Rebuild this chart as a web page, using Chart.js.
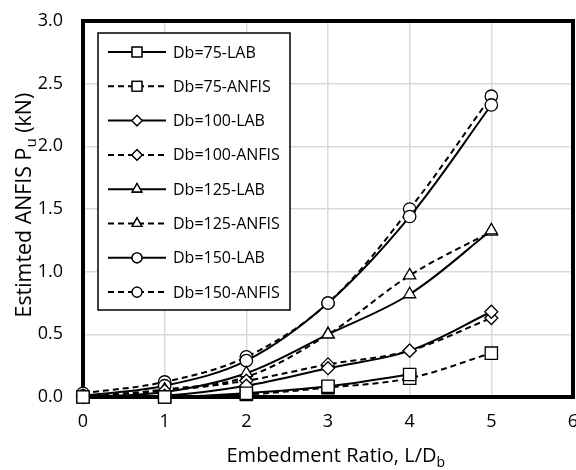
<!DOCTYPE html>
<html lang="en">
<head>
<meta charset="UTF-8">
<title>Estimated ANFIS Pu</title>
<script src="https://cdn.jsdelivr.net/npm/chart.js"></script>
<style>
  body { margin: 0; background: #fff; }
  canvas { display: block; }
</style>
</head>
<body>
<canvas id="chart" width="576" height="470"></canvas>
<script>
  // --- data ---
  const ratios = [0, 1, 2, 3, 4, 5];
  const db75Lab    = [0.00, 0.00, 0.03, 0.085, 0.18, null];
  const db75Anfis  = [0.00, 0.00, 0.02, 0.075, 0.15, 0.35];
  const db100Lab   = [0.00, 0.01, 0.09, 0.23, 0.37, 0.68];
  const db100Anfis = [0.01, 0.05, 0.13, 0.26, 0.37, 0.63];
  const db125Lab   = [0.00, 0.04, 0.19, 0.50, 0.82, 1.33];
  const db125Anfis = [0.00, 0.06, 0.16, 0.50, 0.97, 1.32];
  const db150Lab   = [0.01, 0.09, 0.29, 0.75, 1.44, 2.33];
  const db150Anfis = [0.03, 0.12, 0.32, 0.75, 1.50, 2.40];
  const xTicks = [0, 1, 2, 3, 4, 5, 6];
  const yTicks = [0, 0.5, 1.0, 1.5, 2.0, 2.5, 3.0];

  const FONT = "'Open Sans', 'DejaVu Sans', sans-serif";

  const toPoints = vals => ratios.map((x, i) => ({ x: x, y: vals[i] }));

  function series(label, vals, style, radius, dashed) {
    return {
      label: label,
      data: toPoints(vals),
      showLine: true,
      tension: 0.35,
      spanGaps: false,
      borderColor: "#000",
      borderWidth: 2,
      borderDash: dashed ? [6, 4] : [],
      pointStyle: style,
      pointRadius: radius,
      pointBorderWidth: 1.3,
      pointBorderColor: "#000",
      pointBackgroundColor: "#fff",
      clip: false
    };
  }

  const datasets = [
    series("Db=75-LAB", db75Lab, "rect", 8.7, false),
    series("Db=75-ANFIS", db75Anfis, "rect", 8.7, true),
    series("Db=100-LAB", db100Lab, "rectRot", 6.5, false),
    series("Db=100-ANFIS", db100Anfis, "rectRot", 6.5, true),
    series("Db=125-LAB", db125Lab, "triangle", 7, false),
    series("Db=125-ANFIS", db125Anfis, "triangle", 7, true),
    series("Db=150-LAB", db150Lab, "circle", 6.2, false),
    series("Db=150-ANFIS", db150Anfis, "circle", 6.2, true)
  ];

  // plot frame (thick black border), under the markers
  const frame = {
    id: "frame",
    beforeDatasetsDraw(chart) {
      const { ctx, chartArea: a } = chart;
      ctx.save();
      ctx.strokeStyle = "#000";
      ctx.lineWidth = 4;
      ctx.strokeRect(a.left, a.top, a.right - a.left, a.bottom - a.top);
      ctx.restore();
    }
  };

  // title with a subscript, sized to span `span` px, centred on x
  function subTitle(ctx, parts, x, y, span) {
    const measure = k => parts.reduce((w, p) => {
      ctx.font = Math.round(p.size * k * 10) / 10 + "px " + FONT;
      return w + ctx.measureText(p.t).width;
    }, 0);
    const k = span / measure(1);
    let cx = x - span / 2;
    parts.forEach(p => {
      ctx.font = Math.round(p.size * k * 10) / 10 + "px " + FONT;
      ctx.fillText(p.t, cx, y + (p.dy || 0));
      cx += ctx.measureText(p.t).width;
    });
  }

  const titles = {
    id: "titles",
    afterDraw(chart) {
      const ctx = chart.ctx;
      ctx.save();
      ctx.fillStyle = "#000";
      ctx.textBaseline = "alphabetic";
      ctx.textAlign = "left";
      subTitle(ctx, [
        { t: "Embedment Ratio, L/D", size: 20 },
        { t: "b", size: 14, dy: 5 }
      ], 336, 462, 219);

      ctx.translate(31, 205);
      ctx.rotate(-Math.PI / 2);
      subTitle(ctx, [
        { t: "Estimted ANFIS P", size: 20 },
        { t: "u", size: 14, dy: 5 },
        { t: " (kN)", size: 20 }
      ], 0, 0, 225);
      ctx.restore();
    }
  };

  // legend box drawn inside the plot
  const boxLegend = {
    id: "boxLegend",
    afterDraw(chart) {
      const ctx = chart.ctx;
      const left = 98, top = 33, right = 290, bottom = 310;
      ctx.save();
      ctx.fillStyle = "#fff";
      ctx.fillRect(left, top, right - left, bottom - top);
      ctx.strokeStyle = "#000";
      ctx.lineWidth = 1.5;
      ctx.strokeRect(left, top, right - left, bottom - top);
      chart.data.datasets.forEach((ds, i) => {
        const y = 52 + i * 34.3;
        ctx.strokeStyle = "#000";
        ctx.lineWidth = 2;
        ctx.setLineDash(ds.borderDash);
        ctx.beginPath();
        ctx.moveTo(108, y);
        ctx.lineTo(166, y);
        ctx.stroke();
        ctx.setLineDash([]);
        ctx.fillStyle = "#fff";
        ctx.lineWidth = 1.3;
        Chart.helpers.drawPoint(ctx, {
          pointStyle: ds.pointStyle, radius: ds.pointRadius * 0.8,
          rotation: 0, borderWidth: 1.3
        }, 137, y);
        ctx.fill();
        ctx.stroke();
        ctx.fillStyle = "#000";
        ctx.font = "16px " + FONT;
        ctx.textBaseline = "middle";
        ctx.fillText(ds.label, 173, y + 1);
      });
      ctx.restore();
    }
  };

  new Chart(document.getElementById("chart"), {
    type: "scatter",
    data: { datasets: datasets },
    plugins: [frame, titles, boxLegend],
    options: {
      responsive: false,
      animation: false,
      layout: { autoPadding: false, padding: { left: 0, right: 3, top: 21, bottom: 0 } },
      plugins: { legend: { display: false }, tooltip: { enabled: false } },
      scales: {
        x: {
          type: "linear",
          min: 0, max: 6,
          afterBuildTicks: s => { s.ticks = xTicks.map(v => ({ value: v })); },
          afterFit: s => { s.height = 73; s.paddingLeft = 0; s.paddingRight = 0; },
          grid: { color: "#d9d9d9", lineWidth: 1.5, drawTicks: false },
          border: { display: false },
          ticks: { color: "#000", padding: 14, font: { family: FONT, size: 18 } }
        },
        y: {
          min: 0, max: 3,
          afterBuildTicks: s => { s.ticks = yTicks.map(v => ({ value: v })); },
          afterFit: s => { s.width = 83; s.paddingTop = 0; s.paddingBottom = 0; },
          grid: { color: "#d9d9d9", lineWidth: 1.5, drawTicks: false },
          border: { display: false },
          ticks: {
            color: "#000", padding: 20,
            font: { family: FONT, size: 18 },
            callback: v => v.toFixed(1)
          }
        }
      }
    }
  });
</script>
</body>
</html>
